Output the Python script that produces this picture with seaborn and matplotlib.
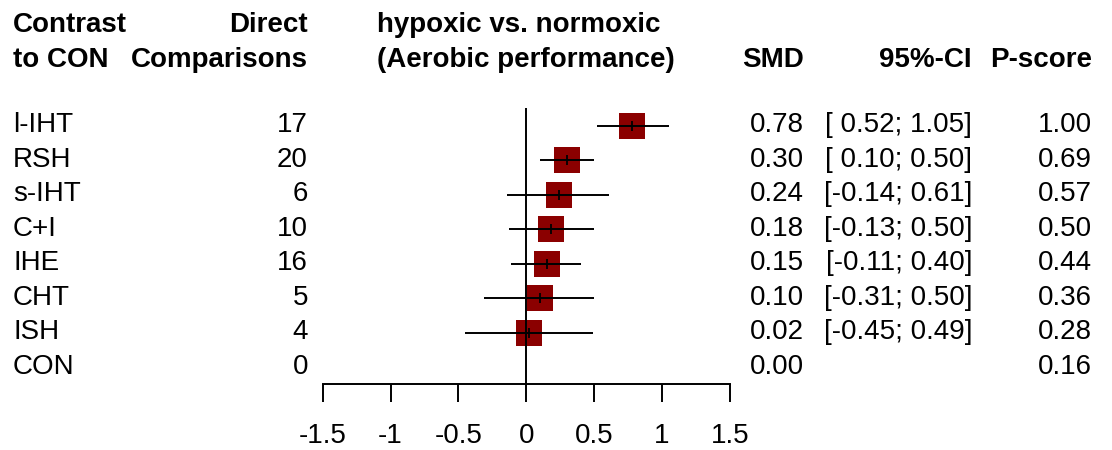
import numpy as np
import pandas as pd
import matplotlib
matplotlib.use("Agg")
import matplotlib.pyplot as plt
import matplotlib.transforms as mtransforms
import seaborn as sns

# Network meta-analysis results (contrast to CON)
treatments = ['l-IHT', 'RSH', 's-IHT', 'C+I', 'IHE', 'CHT', 'ISH', 'CON']
n_direct = [17, 20, 6, 10, 16, 5, 4, 0]
smd = [0.78, 0.30, 0.24, 0.18, 0.15, 0.10, 0.02, 0.00]
ci_lower = [0.52, 0.10, -0.14, -0.13, -0.11, -0.31, -0.45, np.nan]
ci_upper = [1.05, 0.50, 0.61, 0.50, 0.40, 0.50, 0.49, np.nan]
p_score = [1.00, 0.69, 0.57, 0.50, 0.44, 0.36, 0.28, 0.16]
tick_values = [-1.5, -1, -0.5, 0, 0.5, 1, 1.5]
tick_labels = ['-1.5', '-1', '-0.5', '0', '0.5', '1', '1.5']

df = pd.DataFrame({
    'treatment': treatments,
    'n': n_direct,
    'smd': smd,
    'lower': ci_lower,
    'upper': ci_upper,
    'pscore': p_score,
})
df['row'] = np.arange(len(df))

sns.set_style("white")
plt.rcParams['font.family'] = ['Liberation Sans', 'DejaVu Sans']
plt.rcParams['axes.unicode_minus'] = False
plt.rcParams['text.color'] = 'black'
plt.rcParams['xtick.color'] = 'black'
plt.rcParams['axes.edgecolor'] = 'black'

W, H = 1112, 450
fig = plt.figure(figsize=(W / 100, H / 100), dpi=100)
ax = fig.add_axes([322.7 / W, 1 - 384 / H, (730 - 322.7) / W, (384 - 100) / H])

FS = 20
DARK_RED = '#8B0000'

# squares for the estimates (no square for the reference)
est = df[df['treatment'] != 'CON']
sns.scatterplot(data=est, x='smd', y='row', marker='s', s=370, color=DARK_RED,
                linewidth=0, ax=ax, zorder=2, clip_on=False, legend=False)
ax.hlines(est['row'], est['lower'], est['upper'], color='black', lw=1.4, zorder=3)
ax.plot(est['smd'], est['row'], linestyle='none', marker='|', color='black',
        markersize=7, mew=1.3, zorder=4)

ax.set_xlim(-1.5, 1.5)
ax.set_ylim(7.487, -0.745)
ax.vlines(0, -0.52, 7.487, color='black', lw=1.4, clip_on=False)

for side in ['top', 'left', 'right']:
    ax.spines[side].set_visible(False)
ax.spines['bottom'].set_bounds(-1.5, 1.5)
ax.spines['bottom'].set_linewidth(1.4)
ax.set_xticks(tick_values)
ax.set_xticklabels(tick_labels)
ax.set_yticks([])
ax.tick_params(axis='x', direction='out', length=13, width=1.4, pad=15,
               labelsize=FS, bottom=True, colors='black')
ax.set_xlabel('')
ax.set_ylabel('')
ax.patch.set_alpha(0)

# text columns
trans = mtransforms.blended_transform_factory(fig.transFigure, ax.transData)
off = 0.19
for _, r in df.iterrows():
    y = r['row'] + off
    ax.text(13 / W, y, r['treatment'], transform=trans, ha='left', va='baseline', fontsize=FS)
    ax.text(308 / W, y, f"{r['n']}", transform=trans, ha='right', va='baseline', fontsize=FS)
    ax.text(804 / W, y, f"{r['smd']:.2f}", transform=trans, ha='right', va='baseline', fontsize=FS)
    if not np.isnan(r['lower']):
        lo = f"{r['lower']:.2f}"
        if r['lower'] >= 0:
            lo = ' ' + lo
        ci = f"[{lo}; {r['upper']:.2f}]"
        ax.text(972 / W, y, ci, transform=trans, ha='right', va='baseline', fontsize=FS)
    ax.text(1092 / W, y, f"{r['pscore']:.2f}", transform=trans, ha='right', va='baseline', fontsize=FS)

# header
y1 = 1 - 32 / H
y2 = 1 - 66.7 / H
hdr = dict(fontsize=FS, fontweight='bold', va='baseline')
fig.text(13 / W, y1, 'Contrast', ha='left', **hdr)
fig.text(13 / W, y2, 'to CON', ha='left', **hdr)
fig.text(308 / W, y1, 'Direct', ha='right', **hdr)
fig.text(308 / W, y2, 'Comparisons', ha='right', **hdr)
fig.text(377 / W, y1, 'hypoxic vs. normoxic', ha='left', **hdr)
fig.text(377 / W, y2, '(Aerobic performance)', ha='left', **hdr)
fig.text(804 / W, y2, 'SMD', ha='right', **hdr)
fig.text(972 / W, y2, '95%-CI', ha='right', **hdr)
fig.text(1092 / W, y2, 'P-score', ha='right', **hdr)

fig.savefig('out.png', dpi=100)
